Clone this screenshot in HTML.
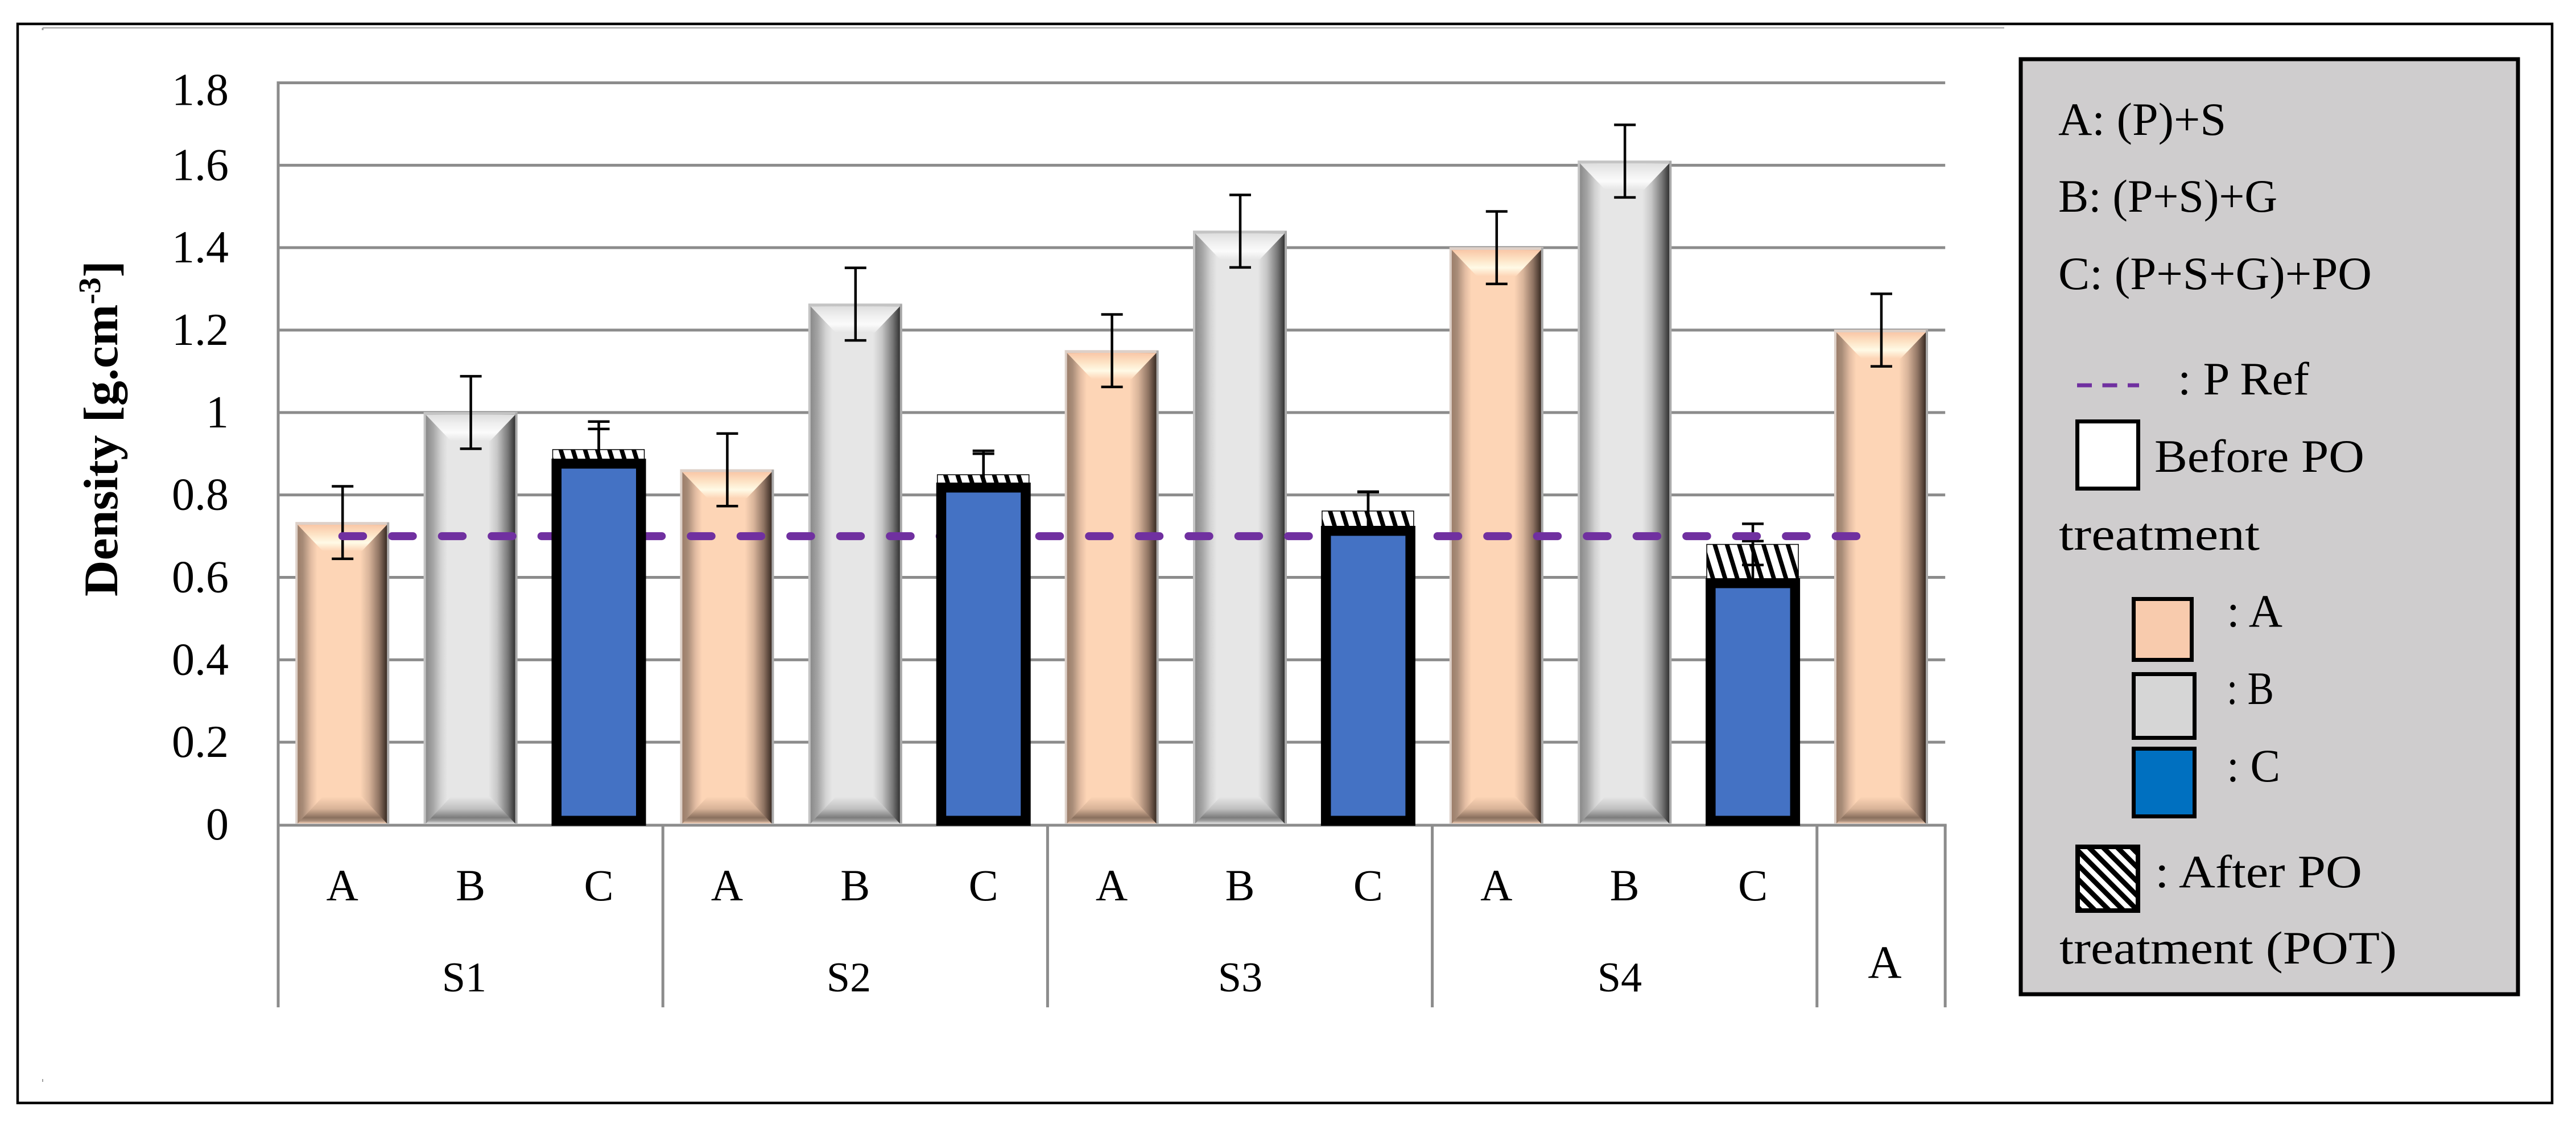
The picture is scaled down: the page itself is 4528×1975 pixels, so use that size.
<!DOCTYPE html>
<html lang="en">
<head>
<meta charset="utf-8">
<title>Density chart</title>
<style>
  html, body { margin: 0; padding: 0; background: #fff; }
  body { width: 4528px; height: 1975px; overflow: hidden; }
  svg { display: block; }
  text { font-family: "Liberation Serif", serif; fill: #000; }
</style>
</head>
<body>
<svg id="chart" xmlns="http://www.w3.org/2000/svg" width="4528" height="1975" viewBox="0 0 4528 1975">
  <defs>
    <linearGradient id="peachSide" x1="0" x2="1" y1="0" y2="0">
      <stop offset="0" stop-color="#9c7e6a"/><stop offset="0.06" stop-color="#a88c78"/>
      <stop offset="0.15" stop-color="#e2bca2"/><stop offset="0.22" stop-color="#fdd5b6"/>
      <stop offset="0.70" stop-color="#fdd5b6"/><stop offset="0.80" stop-color="#d8b49a"/>
      <stop offset="0.91" stop-color="#8f7463"/><stop offset="1" stop-color="#3a2c24"/>
    </linearGradient>
    <linearGradient id="peachTop" x1="0" x2="0" y1="0" y2="1">
      <stop offset="0" stop-color="#f9c7a7"/><stop offset="0.35" stop-color="#fde2c4"/>
      <stop offset="0.68" stop-color="#fffae6"/><stop offset="1" stop-color="#fdd5b6"/>
    </linearGradient>
    <linearGradient id="peachBottom" x1="0" x2="0" y1="0" y2="1">
      <stop offset="0" stop-color="#fdd5b6"/><stop offset="0.45" stop-color="#d8b398"/>
      <stop offset="0.78" stop-color="#8a705e"/><stop offset="0.9" stop-color="#a98d7a"/>
      <stop offset="1" stop-color="#f5d2b8"/>
    </linearGradient>
    <linearGradient id="greySideH" x1="0" x2="1" y1="0" y2="0">
      <stop offset="0" stop-color="#8a8a8a"/><stop offset="0.08" stop-color="#a5a5a5"/>
      <stop offset="0.17" stop-color="#d2d2d2"/><stop offset="0.24" stop-color="#e6e6e6"/>
      <stop offset="0.70" stop-color="#e6e6e6"/><stop offset="0.80" stop-color="#c6c6c6"/>
      <stop offset="0.92" stop-color="#777777"/><stop offset="1" stop-color="#333333"/>
    </linearGradient>
    <linearGradient id="greyTop" x1="0" x2="0" y1="0" y2="1">
      <stop offset="0" stop-color="#dedede"/><stop offset="0.35" stop-color="#efefef"/>
      <stop offset="0.68" stop-color="#fbfbfb"/><stop offset="1" stop-color="#e6e6e6"/>
    </linearGradient>
    <linearGradient id="greyBottom" x1="0" x2="0" y1="0" y2="1">
      <stop offset="0" stop-color="#e6e6e6"/><stop offset="0.45" stop-color="#c0c0c0"/>
      <stop offset="0.78" stop-color="#7c7c7c"/><stop offset="0.9" stop-color="#a0a0a0"/>
      <stop offset="1" stop-color="#e2e2e2"/>
    </linearGradient>
    <pattern id="legendHatch" patternUnits="userSpaceOnUse" width="25" height="25" patternTransform="translate(3648,1484) skewX(45)">
      <rect x="0" y="0" width="25" height="25" fill="#000"/>
      <rect x="0" y="0" width="12.5" height="25" fill="#fff"/>
    </pattern>
  </defs>

  <rect x="31" y="42" width="4455" height="1896" fill="#fff" stroke="#000" stroke-width="4.5"/>
  <line x1="75" y1="49" x2="3523" y2="49" stroke="#a0a0a0" stroke-width="2"/>
  <line x1="75" y1="49" x2="75" y2="53" stroke="#a0a0a0" stroke-width="3"/>
  <line x1="75" y1="1896" x2="75" y2="1901" stroke="#a0a0a0" stroke-width="2"/>

  <g id="grid-layer"></g>
  <g id="bar-layer"></g>
  <g id="hatch-layer"></g>
  <g id="error-layer"></g>
  <path id="ref-line" fill="none" stroke="#7030a0" stroke-width="14" stroke-linecap="round" stroke-dasharray="36.5 51"></path>
  <g id="blue-layer"></g>
  <g id="axis-layer"></g>

  <text transform="translate(206,1048) rotate(-90)" font-size="85" font-weight="bold" textLength="590" lengthAdjust="spacingAndGlyphs">Density [g.cm<tspan font-size="55" dy="-30">-3</tspan><tspan dy="30">]</tspan></text>

  <text x="816" y="1742" font-size="74" text-anchor="middle">S1</text>
  <text x="1492" y="1742" font-size="74" text-anchor="middle">S2</text>
  <text x="2180" y="1742" font-size="74" text-anchor="middle">S3</text>
  <text x="2847" y="1742" font-size="74" text-anchor="middle">S4</text>
  <text x="3313" y="1718" font-size="82" text-anchor="middle">A</text>

  <g>
    <rect x="3552" y="104" width="874" height="1643" fill="#cfcdce" stroke="#000" stroke-width="7"/>
    <text x="3618" y="237" font-size="82" textLength="295" lengthAdjust="spacingAndGlyphs">A: (P)+S</text>
    <text x="3618" y="372" font-size="82" textLength="385" lengthAdjust="spacingAndGlyphs">B: (P+S)+G</text>
    <text x="3618" y="508" font-size="82" textLength="551" lengthAdjust="spacingAndGlyphs">C: (P+S+G)+PO</text>
    <line x1="3651" y1="677" x2="3760" y2="677" stroke="#7030a0" stroke-width="7" stroke-dasharray="26 18.5"/>
    <text x="3828" y="693" font-size="82" textLength="231" lengthAdjust="spacingAndGlyphs">: P Ref</text>
    <rect x="3651.5" y="740.5" width="107" height="118" fill="#fff" stroke="#000" stroke-width="7"/>
    <text x="3787" y="829" font-size="82" textLength="369" lengthAdjust="spacingAndGlyphs">Before PO</text>
    <text x="3619" y="966" font-size="82" textLength="353" lengthAdjust="spacingAndGlyphs">treatment</text>
    <rect x="3750.5" y="1052.5" width="102" height="107" fill="#f8cbad" stroke="#000" stroke-width="7"/>
    <text x="3914" y="1101" font-size="82" textLength="98" lengthAdjust="spacingAndGlyphs">: A</text>
    <rect x="3750.5" y="1184.5" width="107" height="112" fill="#d6d6d6" stroke="#000" stroke-width="7"/>
    <text x="3914" y="1237" font-size="82" textLength="83" lengthAdjust="spacingAndGlyphs">: B</text>
    <rect x="3750.5" y="1315.5" width="107" height="119" fill="#0070c0" stroke="#000" stroke-width="7"/>
    <text x="3914" y="1373" font-size="82" textLength="94" lengthAdjust="spacingAndGlyphs">: C</text>
    <rect x="3652" y="1488" width="106" height="112" fill="url(#legendHatch)" stroke="#000" stroke-width="8"/>
    <text x="3788" y="1559" font-size="82" textLength="364" lengthAdjust="spacingAndGlyphs">: After PO</text>
    <text x="3620" y="1693" font-size="82" textLength="593" lengthAdjust="spacingAndGlyphs">treatment (POT)</text>
  </g>
</svg>

<script>
// ---- chart data ----
const categories = ["A","B","C","A","B","C","A","B","C","A","B","C"];
const tickValues = [1.8,1.6,1.4,1.2,1,0.8,0.6,0.4,0.2,0];
const tickLabels = ["1.8","1.6","1.4","1.2","1","0.8","0.6","0.4","0.2","0"];
const valuesA = [0.733,0.861,1.15,1.40,1.20];
const valuesB = [1.0,1.263,1.44,1.61];
const valuesBefore = [0.888,0.83,0.725,0.598];
const valuesAfter = [0.91,0.849,0.761,0.68];
const errorA = [0.088,0.088,0.088,0.088,0.088];
const errorB = [0.088,0.088,0.088,0.088];
const errorBefore = [0.09,0.077,0.083,0.09];
const errorAfter = [0.05,0.051,0.046,0.05];
const refValues = [0.7,0.7,0.7,0.7,0.7,0.7,0.7,0.7,0.7,0.7,0.7,0.7,0.7];

// ---- axis functions ----
const plotLeft = 489, slot = 225.4, zeroY = 1449, topY = 145.5, maxV = 1.8;
function y(v) { return zeroY - (v / maxV) * (zeroY - topY); }
function x(i) { return plotLeft + (i + 0.5) * slot; }

const NS = "http://www.w3.org/2000/svg";
function make(tag, attrs, parent) {
  const el = document.createElementNS(NS, tag);
  for (const k in attrs) el.setAttribute(k, attrs[k]);
  parent.appendChild(el);
  return el;
}
const defs = document.querySelector("defs");
const gridLayer = document.getElementById("grid-layer");
const barLayer = document.getElementById("bar-layer");
const hatchLayer = document.getElementById("hatch-layer");
const errorLayer = document.getElementById("error-layer");
const blueLayer = document.getElementById("blue-layer");
const axisLayer = document.getElementById("axis-layer");

// gridlines and tick labels
tickValues.forEach(function (v, i) {
  if (v !== 0) {
    const g = make("line", {x1: plotLeft, x2: plotLeft + 13 * slot, y1: y(v), y2: y(v), stroke: "#8c8c8c", "stroke-width": 5}, gridLayer);
    
    
  }
  const t = make("text", {x: 402, y: y(v) + (i === 0 ? 39 : 26), "font-size": 80, "text-anchor": "end"}, axisLayer);
  t.textContent = tickLabels[i];
  
  
});

// beveled bar
function drawBevelBar(i, value, kind) {
  const w = 165, left = x(i) - w / 2, top = y(value), bottom = 1447;
  const peach = kind === "peach";
  const group = make("g", {}, barLayer);
  
  
  const edge = make("rect", {x: left, y: top - 1, width: w, height: bottom - top + 1, fill: peach ? "#ddd0c8" : "#c4c4c4"}, group);
  
  
  const rightEdge = make("rect", {x: left + w - 4, y: top, width: 4, height: bottom - top, fill: "#aaaaaa"}, group);
  
  
  const il = left + 4, ir = left + w - 4, it = top + 4;
  const face = make("rect", {x: il, y: it, width: ir - il, height: bottom - it, fill: peach ? "url(#peachSide)" : "url(#greySideH)"}, group);
  
  
  const bevelTop = make("polygon", {points: il + "," + it + " " + ir + "," + it + " " + (ir - 44) + "," + (it + 46) + " " + (il + 44) + "," + (it + 46), fill: peach ? "url(#peachTop)" : "url(#greyTop)"}, group);
  
  
  const bevelBottom = make("polygon", {points: (il + 44) + "," + (bottom - 47) + " " + (ir - 44) + "," + (bottom - 47) + " " + ir + "," + bottom + " " + il + "," + bottom, fill: peach ? "url(#peachBottom)" : "url(#greyBottom)"}, group);
  
  
}

// error bar
function drawError(cx, value, err) {
  const hi = y(value + err), lo = y(value - err);
  const g = make("g", {stroke: "#000", "stroke-width": 4.5}, errorLayer);
  
  
  const stem = make("line", {x1: cx, x2: cx, y1: hi, y2: lo}, g);
  
  
  const capHi = make("line", {x1: cx - 19, x2: cx + 19, y1: hi, y2: hi}, g);
  
  
  const capLo = make("line", {x1: cx - 19, x2: cx + 19, y1: lo, y2: lo}, g);
  
  
}

// A and B bars
valuesA.forEach(function (v, k) {
  const i = k * 3;
  drawBevelBar(i, v, "peach");
  drawError(x(i) + 0.5, v, errorA[k]);
});
valuesB.forEach(function (v, k) {
  const i = k * 3 + 1;
  drawBevelBar(i, v, "grey");
  drawError(x(i) + 0.5, v, errorB[k]);
});

// C bars: hatched "after" bar beneath, solid "before" bar on top
valuesBefore.forEach(function (v, k) {
  const i = k * 3 + 2, cx = x(i), outer = 166, stroke = 17.5;
  const left = cx - outer / 2, hatchTop = y(valuesAfter[k]), barTop = y(v), barBottom = zeroY + 2;

  const pattern = make("pattern", {id: "hatch" + k, patternUnits: "userSpaceOnUse", width: 21.4, height: 20, patternTransform: "translate(" + (left + 12) + "," + hatchTop + ") skewX(17)"}, defs);
  const patternBack = make("rect", {x: 0, y: 0, width: 21.4, height: 20, fill: "#fff"}, pattern);
  
  
  const patternStripe = make("rect", {x: 0, y: 0, width: 8, height: 20, fill: "#000"}, pattern);
  
  

  const hatch = make("rect", {x: left + 2, y: hatchTop, width: outer - 5, height: barTop - hatchTop + 2, fill: "url(#hatch" + k + ")", stroke: "#000", "stroke-width": 1.5}, hatchLayer);
  
  

  drawError(cx, valuesAfter[k], errorAfter[k]);
  drawError(cx, v, errorBefore[k]);

  const blue = make("rect", {x: left + stroke / 2, y: barTop + stroke / 2, width: outer - stroke, height: barBottom - barTop - stroke, fill: "#4472c4", stroke: "#000", "stroke-width": stroke}, blueLayer);
  
  
});

// reference line
document.getElementById("ref-line").setAttribute("d", refValues.map(function (v, i) {
  return (i ? "L" : "M") + x(i) + " " + y(v);
}).join(" "));

// axes
const yAxis = make("line", {x1: plotLeft, x2: plotLeft, y1: topY - 2.5, y2: 1770, stroke: "#8c8c8c", "stroke-width": 5}, axisLayer);


const xAxis = make("line", {x1: plotLeft, x2: plotLeft + 13 * slot + 2.5, y1: zeroY + 1, y2: zeroY + 1, stroke: "#8c8c8c", "stroke-width": 5}, barLayer);


[3, 6, 9, 12, 13].forEach(function (n) {
  const d = make("line", {x1: plotLeft + n * slot, x2: plotLeft + n * slot, y1: zeroY, y2: 1770, stroke: "#8c8c8c", "stroke-width": 5}, axisLayer);
  
  
});
categories.forEach(function (c, i) {
  const t = make("text", {x: x(i), y: 1582, "font-size": 78, "text-anchor": "middle"}, axisLayer);
  t.textContent = c;
  
  
});
</script>
</body>
</html>
